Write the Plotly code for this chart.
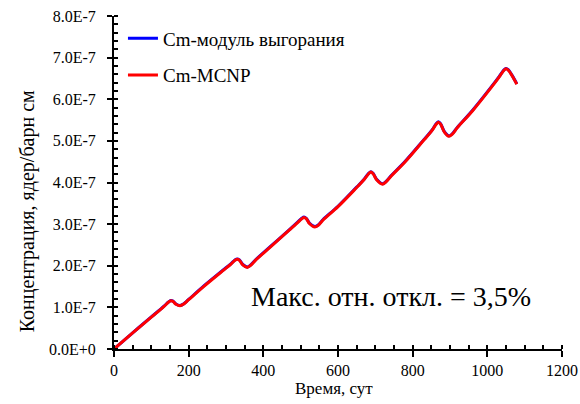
import plotly.graph_objects as go

# Time, days
time_days = [0, 50, 100, 134, 146, 152, 158, 166, 177, 186, 200, 240, 290, 312, 324, 330, 336,
             345, 357, 366, 380, 420, 470, 491, 503, 509, 515, 524, 538, 547, 560, 600, 650,
             670, 682, 688, 694, 704, 719, 728, 742, 780, 830, 851, 863, 869, 875, 885,
             897, 906, 920, 960, 1010, 1032, 1044, 1050, 1056, 1066, 1079]

# Concentration, nuclei/(barn*cm) -- burnup module
conc_module = [0.0, 0.39e-7, 0.77e-7, 1.03e-7, 1.13e-7, 1.165e-7, 1.15e-7, 1.08e-7, 1.045e-7,
               1.08e-7, 1.19e-7, 1.51e-7, 1.88e-7, 2.04e-7, 2.14e-7, 2.165e-7, 2.14e-7, 2.03e-7,
               1.97e-7, 2.02e-7, 2.15e-7, 2.47e-7, 2.87e-7, 3.04e-7, 3.14e-7, 3.17e-7, 3.14e-7,
               3.02e-7, 2.94e-7, 2.98e-7, 3.11e-7, 3.43e-7, 3.89e-7, 4.08e-7, 4.22e-7, 4.26e-7,
               4.22e-7, 4.07e-7, 3.97e-7, 4.02e-7, 4.16e-7, 4.51e-7, 5.03e-7, 5.25e-7, 5.41e-7,
               5.46e-7, 5.41e-7, 5.22e-7, 5.12e-7, 5.17e-7, 5.33e-7, 5.73e-7, 6.29e-7, 6.55e-7,
               6.70e-7, 6.74e-7, 6.71e-7, 6.58e-7, 6.37e-7]

# Concentration -- MCNP
conc_mcnp = [0.0, 0.385e-7, 0.765e-7, 1.025e-7, 1.125e-7, 1.16e-7, 1.145e-7, 1.075e-7, 1.04e-7,
             1.075e-7, 1.185e-7, 1.50e-7, 1.87e-7, 2.03e-7, 2.13e-7, 2.155e-7, 2.13e-7, 2.02e-7,
             1.96e-7, 2.01e-7, 2.14e-7, 2.46e-7, 2.86e-7, 3.03e-7, 3.13e-7, 3.16e-7, 3.13e-7,
             3.01e-7, 2.93e-7, 2.97e-7, 3.10e-7, 3.42e-7, 3.88e-7, 4.07e-7, 4.21e-7, 4.25e-7,
             4.21e-7, 4.06e-7, 3.96e-7, 4.01e-7, 4.15e-7, 4.50e-7, 5.02e-7, 5.24e-7, 5.40e-7,
             5.45e-7, 5.40e-7, 5.21e-7, 5.11e-7, 5.16e-7, 5.32e-7, 5.72e-7, 6.28e-7, 6.54e-7,
             6.69e-7, 6.73e-7, 6.70e-7, 6.57e-7, 6.36e-7]

y_tick_vals = [0, 1e-7, 2e-7, 3e-7, 4e-7, 5e-7, 6e-7, 7e-7, 8e-7]
y_tick_labels = ["0.0E+0", "1.0E-7", "2.0E-7", "3.0E-7", "4.0E-7",
                 "5.0E-7", "6.0E-7", "7.0E-7", "8.0E-7"]
x_tick_vals = [0, 200, 400, 600, 800, 1000, 1200]

series_names = ["Cm-модуль выгорания", "Cm-MCNP"]
x_title = "Время, сут"
y_title = "Концентрация, ядер/барн см"
annotation_text = "Макс. отн. откл. = 3,5%"

FONT = "Liberation Serif"

fig = go.Figure()
fig.add_trace(go.Scatter(x=time_days, y=conc_module, mode="lines", name=series_names[0],
                         line=dict(color="#0000ff", width=3, shape="spline", smoothing=1.0),
                         legendgroup="a"))
fig.add_trace(go.Scatter(x=time_days, y=conc_mcnp, mode="lines", name=series_names[1],
                         line=dict(color="#ff0000", width=3, shape="spline", smoothing=1.0),
                         legendgroup="b"))

fig.update_layout(
    width=580, height=404,
    margin=dict(l=114, r=18, t=16, b=55),
    paper_bgcolor="white", plot_bgcolor="white",
    font=dict(family=FONT, size=16, color="black"),
    showlegend=True,
    legend=dict(x=0.02, y=0.99, xanchor="left", yanchor="top",
                font=dict(family=FONT, size=19, color="black"),
                bgcolor="rgba(0,0,0,0)", tracegroupgap=9),
    annotations=[
        dict(text=annotation_text, x=0.619, y=0.159, xref="paper", yref="paper",
             xanchor="center", yanchor="middle", showarrow=False,
             font=dict(family=FONT, size=28, color="black")),
        dict(text=x_title, x=0.49, y=-0.118, xref="paper", yref="paper",
             xanchor="center", yanchor="middle", showarrow=False,
             font=dict(family=FONT, size=17, color="black")),
        dict(text=y_title, x=-0.194, y=0.414, xref="paper", yref="paper", textangle=-90,
             xanchor="center", yanchor="middle", showarrow=False,
             font=dict(family=FONT, size=20, color="black")),
    ],
)

fig.update_xaxes(
    range=[0, 1200], tickvals=x_tick_vals, ticks="outside", ticklen=6, tickwidth=1.5,
    tickcolor="black", showline=True, linecolor="black", linewidth=2, showgrid=False,
    zeroline=False, tickfont=dict(family=FONT, size=16, color="black"), automargin=False,
    minor=dict(dtick=50, ticks="inside", ticklen=4, tickwidth=1.5, tickcolor="black", showgrid=False),
)
fig.update_yaxes(
    range=[0, 8e-7], tickvals=y_tick_vals, ticktext=y_tick_labels, ticks="outside", ticklen=5,
    tickwidth=1.5, tickcolor="black", showline=True, linecolor="black", linewidth=2,
    showgrid=False, zeroline=False, tickfont=dict(family=FONT, size=16, color="black"),
    automargin=False, ticklabelstandoff=8,
    minor=dict(dtick=2e-8, ticks="inside", ticklen=4, tickwidth=1.5, tickcolor="black", showgrid=False),
)

fig.write_html("out.html")
